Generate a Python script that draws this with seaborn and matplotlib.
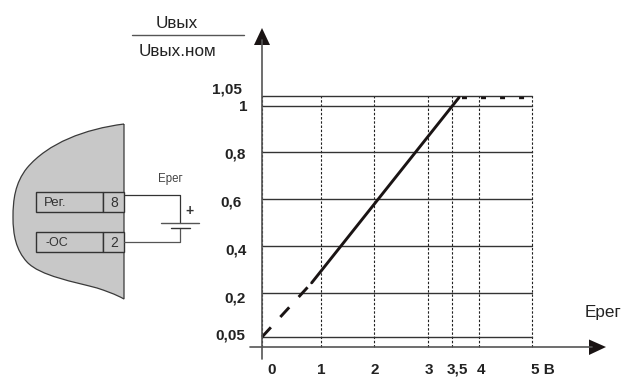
import numpy as np
import matplotlib
matplotlib.use("Agg")
import matplotlib.pyplot as plt
from matplotlib.path import Path
from matplotlib.patches import PathPatch, Rectangle, Polygon
from matplotlib.transforms import ScaledTranslation
import seaborn as sns
import pandas as pd

sns.set_theme(style="white")
plt.rcParams['font.family'] = ['Liberation Sans', 'DejaVu Sans']

x_ticks = [0, 1, 2, 3, 3.5, 4, 5]
x_labels = ['0', '1', '2', '3', '3,5', '4', '5 В']
y_ticks = [0.05, 0.2, 0.4, 0.6, 0.8, 1.0, 1.05]
y_labels = ['0,05', '0,2', '0,4', '0,6', '0,8', '1', '1,05']
# the printed scale is not uniform: where each tick sits along its axis (share of length)
x_scale_frac = [0, 0.2185, 0.4130, 0.6130, 0.7037, 0.8037, 1.0]
y_scale_pos = [0.0, 0.0398, 0.2131, 0.4, 0.5867, 0.7736, 0.9602, 1.0]
y_scale_val = [0.0, 0.05, 0.2, 0.4, 0.6, 0.8, 1.0, 1.05]

dash_x = [0, 0.842]
dash_y = [0.05, 0.245]
solid_x = [0.842, 3.63]
solid_y = [0.245, 1.04]
sat_x = [3.685, 5.0]
sat_y = [1.04, 1.04]

W, H = 622, 378
fig = plt.figure(figsize=(W / 100, H / 100), dpi=100, facecolor='white')

L, R, T, B = 262, 532, 95.5, 347
ax = fig.add_axes([L / W, 1 - B / H, (R - L) / W, (B - T) / H])
ax.set_xscale('function', functions=(lambda v: np.interp(v, x_ticks, x_scale_frac),
                                     lambda v: np.interp(v, x_scale_frac, x_ticks)))
ax.set_yscale('function', functions=(lambda v: np.interp(v, y_scale_val, y_scale_pos),
                                     lambda v: np.interp(v, y_scale_pos, y_scale_val)))
ax.set_xlim(0, 5)
ax.set_ylim(0, 1.05)
ax.patch.set_alpha(0)
for s in ax.spines.values():
    s.set_visible(False)

ax.set_xticks(x_ticks, x_labels, fontsize=11, fontweight='bold', color='#222222')
ax.set_yticks(y_ticks, y_labels, fontsize=11, fontweight='bold', color='#222222')
ax.minorticks_off()
ax.tick_params(axis='both', length=0, pad=0)
ax.grid(True, axis='y', color='#333333', lw=1.0, ls='-')
ax.grid(True, axis='x', color='#222222', lw=0.8, ls=(0, (2.2, 1.6)))
ax.set_axisbelow(True)
for g in ax.get_xgridlines() + ax.get_ygridlines():
    g.set_clip_on(False)

d = pd.DataFrame({'x': dash_x, 'y': dash_y})
s = pd.DataFrame({'x': solid_x, 'y': solid_y})
t = pd.DataFrame({'x': sat_x, 'y': sat_y})
sns.lineplot(data=d, x='x', y='y', ax=ax, color='#1a1414', lw=2.1, ls=(0, (4.5, 4.8)), clip_on=False, errorbar=None)
sns.lineplot(data=s, x='x', y='y', ax=ax, color='#1a1414', lw=2.1, clip_on=False, errorbar=None)
sns.lineplot(data=t, x='x', y='y', ax=ax, color='#1a1414', lw=1.7, ls=(0, (2.1, 5.96)), clip_on=False, errorbar=None)
ax.set_xlabel('')
ax.set_ylabel('')

# nudge printed labels to where they sit in the drawing (pixels at 100 dpi -> points)
px = 72 / 100
x_off = [10, 0, 1, 1, 5, 2, 11]
for lab, dx in zip(ax.get_xticklabels(), x_off):
    lab.set_transform(lab.get_transform() + ScaledTranslation(dx * px / 72, -16 * px / 72, fig.dpi_scale_trans))
    lab.set_va('top')
y_off = [(-17, 3), (-16, -4), (-15, -3), (-20, -2), (-16, -1), (-15, 0), (-20, 7)]
for lab, (dx, dy) in zip(ax.get_yticklabels(), y_off):
    lab.set_transform(lab.get_transform() + ScaledTranslation(dx * px / 72, dy * px / 72, fig.dpi_scale_trans))

# pixel overlay for the axis arrows, titles and the wiring sketch
ov = fig.add_axes([0, 0, 1, 1], zorder=5)
ov.set_xlim(0, W)
ov.set_ylim(H, 0)
ov.axis('off')
ov.plot([262, 262], [40, 359], color='#555555', lw=1.2)
ov.plot([250, 592], [347, 347], color='#555555', lw=1.2)
ov.add_patch(Polygon([[262, 28], [254, 45], [270, 45]], closed=True, color='#1a1414', lw=0))
ov.add_patch(Polygon([[606, 347], [589, 339.5], [589, 355]], closed=True, color='#1a1414', lw=0))
ov.plot([132, 244], [34.5, 34.5], color='#555555', lw=1.0)
ov.text(177, 23, 'Uвых', ha='center', va='center', fontsize=12.3, color='#222222')
ov.text(177, 52, 'Uвых.ном', ha='center', va='center', fontsize=12.3, color='#222222')
ov.text(603, 313, 'Eрег', ha='center', va='center', fontsize=12.3, color='#222222')

verts = [(124, 124), (85, 129), (48, 143), (27, 168), (15, 183), (13, 200), (13, 217),
         (13, 235), (16, 250), (27, 262), (40, 276), (75, 282), (97, 288),
         (106, 291), (115, 294), (124, 299), (124, 124)]
codes = [Path.MOVETO] + [Path.CURVE4] * 15 + [Path.LINETO]
ov.add_patch(PathPatch(Path(verts, codes), fc='#c8c8c8', ec='#3a3a3a', lw=0.9))
for y0 in (191.7, 231.7):
    ov.add_patch(Rectangle((36, y0), 67, 20.6, fc='#c8c8c8', ec='#333333', lw=1.0))
    ov.add_patch(Rectangle((103, y0), 21, 20.6, fc='#c8c8c8', ec='#333333', lw=1.0))
ov.text(44, 203, 'Рег.', ha='left', va='center', fontsize=9.5, color='#333333')
ov.text(46, 243, '-ОС', ha='left', va='center', fontsize=9, color='#333333')
ov.text(114.5, 203, '8', ha='center', va='center', fontsize=10, color='#333333')
ov.text(114.5, 243, '2', ha='center', va='center', fontsize=10, color='#333333')
ov.plot([124, 179.5, 179.5], [195.3, 195.3, 222.7], color='#333333', lw=0.9)
ov.plot([124, 179.5, 179.5], [242.3, 242.3, 228], color='#555555', lw=0.9)
ov.plot([161, 198.5], [222.7, 222.7], color='#555555', lw=1.0)
ov.plot([171, 190], [228, 228], color='#333333', lw=1.0)
ov.text(189, 211, '+', ha='center', va='center', fontsize=10, fontweight='bold', color='#333333')
ov.text(170, 179, 'Eрег', ha='center', va='center', fontsize=8.3, color='#444444')

fig.savefig('out.png', dpi=100, facecolor='white')
